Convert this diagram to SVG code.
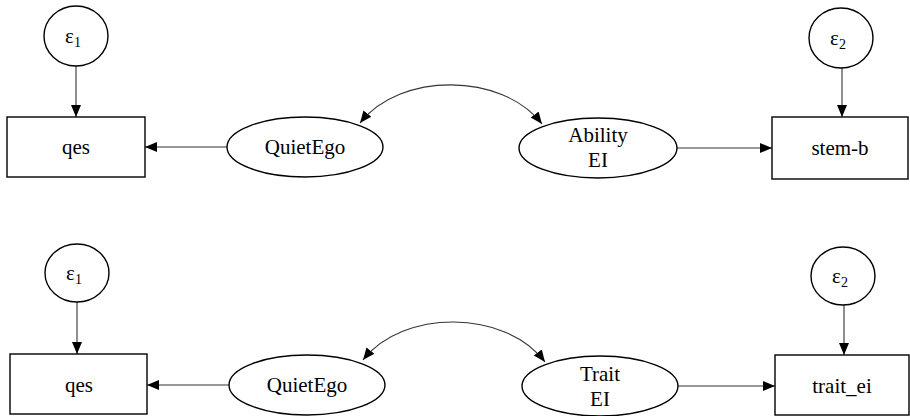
<svg xmlns="http://www.w3.org/2000/svg" width="910" height="416" viewBox="0 0 910 416">
<defs>
<marker id="ah" viewBox="0 0 12 12" refX="12" refY="6" markerWidth="12" markerHeight="12" markerUnits="userSpaceOnUse" orient="auto-start-reverse">
<path d="M0,1 L12,6 L0,11 z" fill="#000"/>
</marker>
<style>
.shape{fill:#fff;stroke:#000;stroke-width:1.4}
.conn{fill:none;stroke:#333;stroke-width:1.1}
.sub{font-size:14px}
</style>
</defs>
<rect width="910" height="416" fill="#fff"/>
<g id="connectors">
<path class="conn" d="M76,66 L76,117" marker-end="url(#ah)"/>
<path class="conn" d="M227,147 L145,147" marker-end="url(#ah)"/>
<path class="conn" d="M360,123 C400,72 502,72 542,124" marker-start="url(#ah)" marker-end="url(#ah)"/>
<path class="conn" d="M677,148 L772,148" marker-end="url(#ah)"/>
<path class="conn" d="M842,68 L842,117" marker-end="url(#ah)"/>
<path class="conn" d="M77,302 L77,354" marker-end="url(#ah)"/>
<path class="conn" d="M229,385 L147,385" marker-end="url(#ah)"/>
<path class="conn" d="M363,360 C403,309 505,309 545,362" marker-start="url(#ah)" marker-end="url(#ah)"/>
<path class="conn" d="M678,386 L775,386" marker-end="url(#ah)"/>
<path class="conn" d="M844,305 L844,355" marker-end="url(#ah)"/>
</g>
<g font-family="Liberation Serif, DejaVu Serif, serif" font-size="21" text-anchor="middle" fill="#000">
<g id="e1_top"><ellipse class="shape" cx="76" cy="36" rx="32" ry="30"/><text x="73" y="43">ε<tspan class="sub" dy="4">1</tspan></text></g>
<g id="qes_top"><rect class="shape" x="7" y="117" width="138" height="60"/><text x="76" y="154">qes</text></g>
<g id="quietego_top"><ellipse class="shape" cx="305" cy="147" rx="78" ry="30"/><text x="305" y="154">QuietEgo</text></g>
<g id="ability_top"><ellipse class="shape" cx="598" cy="148" rx="79" ry="30"/><text x="598" y="142">Ability</text><text x="598" y="167">EI</text></g>
<g id="stemb_top"><rect class="shape" x="772" y="117" width="136" height="62"/><text x="840" y="155">stem-b</text></g>
<g id="e2_top"><ellipse class="shape" cx="841" cy="38" rx="32" ry="30"/><text x="838" y="45">ε<tspan class="sub" dy="4">2</tspan></text></g>
<g id="e1_bot"><ellipse class="shape" cx="77" cy="273" rx="32" ry="29"/><text x="74" y="280">ε<tspan class="sub" dy="4">1</tspan></text></g>
<g id="qes_bot"><rect class="shape" x="10" y="354" width="137" height="60"/><text x="79" y="392">qes</text></g>
<g id="quietego_bot"><ellipse class="shape" cx="307" cy="385" rx="78" ry="30"/><text x="307" y="392">QuietEgo</text></g>
<g id="trait_bot"><ellipse class="shape" cx="600" cy="386" rx="78" ry="30"/><text x="600" y="381">Trait</text><text x="600" y="406">EI</text></g>
<g id="traitei_bot"><rect class="shape" x="775" y="355" width="134" height="60"/><text x="842" y="393">trait_ei</text></g>
<g id="e2_bot"><ellipse class="shape" cx="843" cy="276" rx="32" ry="29"/><text x="840" y="283">ε<tspan class="sub" dy="4">2</tspan></text></g>
</g>
</svg>
